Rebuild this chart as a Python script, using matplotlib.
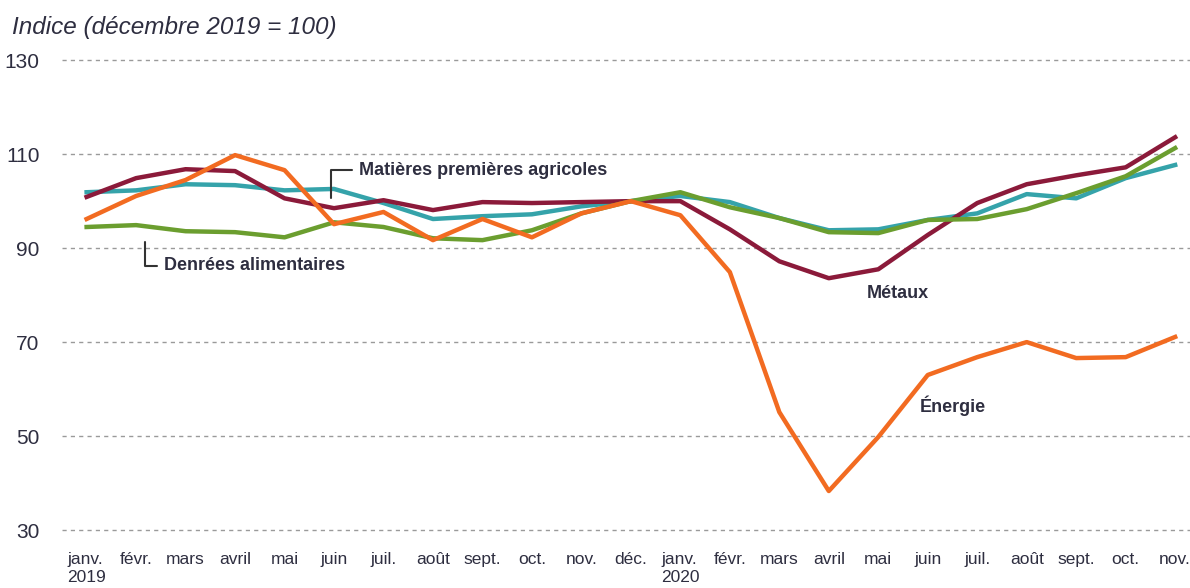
import matplotlib
matplotlib.use("Agg")
import matplotlib.pyplot as plt

plt.rcParams['font.family'] = ['Liberation Sans', 'DejaVu Sans']

months = ['janv.\n2019', 'févr.', 'mars', 'avril', 'mai', 'juin', 'juil.', 'août',
          'sept.', 'oct.', 'nov.', 'déc.', 'janv.\n2020', 'févr.', 'mars', 'avril',
          'mai', 'juin', 'juil.', 'août', 'sept.', 'oct.', 'nov.']

energie = [96.2, 101.1, 104.5, 109.8, 106.6, 95.1, 97.7, 91.7, 96.2, 92.3, 97.4, 100.0,
           97.0, 84.9, 55.1, 38.3, 49.8, 63.0, 66.8, 70.0, 66.6, 66.8, 71.1]
metaux = [100.9, 104.9, 106.8, 106.4, 100.6, 98.5, 100.2, 98.1, 99.8, 99.6, 99.8, 100.0,
          100.0, 94.0, 87.2, 83.6, 85.5, 92.8, 99.6, 103.6, 105.5, 107.2, 113.6]
agricoles = [101.9, 102.3, 103.6, 103.4, 102.3, 102.6, 99.6, 96.2, 96.8, 97.2, 98.9, 100.0,
             101.1, 99.8, 96.4, 93.8, 94.0, 96.0, 97.4, 101.5, 100.6, 104.9, 107.7]
denrees = [94.5, 94.9, 93.6, 93.4, 92.3, 95.5, 94.5, 92.1, 91.7, 93.8, 97.4, 100.0,
           101.9, 98.7, 96.4, 93.4, 93.2, 96.0, 96.2, 98.3, 101.7, 105.3, 111.3]

yticks = [30, 50, 70, 90, 110, 130]

c_orange = '#F26B21'
c_brown = '#8B1A3A'
c_teal = '#35A3AA'
c_green = '#6B9E2F'
c_text = '#2E2E40'

fig = plt.figure(figsize=(11.9, 5.88), dpi=100)
ax = fig.add_axes([0.052, 0.0986, 0.948, 0.799])

x = list(range(len(months)))
ax.plot(x, agricoles, color=c_teal, lw=3.2, zorder=3)
ax.plot(x, metaux, color=c_brown, lw=3.2, zorder=4)
ax.plot(x, denrees, color=c_green, lw=3.2, zorder=5)
ax.plot(x, energie, color=c_orange, lw=3.2, zorder=6)

ax.set_xlim(-0.5, 22.3)
ax.set_ylim(30, 130)
ax.set_yticks(yticks)
ax.set_xticks(x)
ax.set_xticklabels(months, multialignment='left')
ax.tick_params(axis='both', length=0, colors=c_text)
ax.tick_params(axis='y', labelsize=15, pad=16)
ax.tick_params(axis='x', labelsize=12.5, pad=16)
for s in ax.spines.values():
    s.set_visible(False)
ax.yaxis.grid(True, linestyle=(0, (3, 3)), color='#9a9a9a', lw=1)
for gl in ax.get_ygridlines():
    gl.set_clip_on(False)
ax.set_axisbelow(True)

fig.text(0.01, 0.953, 'Indice (décembre 2019 = 100)', style='italic', fontsize=17.5,
         color=c_text, ha='left', va='center')

arrow = dict(arrowstyle='-', color='#333333', lw=1.5,
             connectionstyle='angle,angleA=0,angleB=90,rad=0',
             relpos=(0, 0.5), shrinkA=3, shrinkB=0)
ax.annotate('Matières premières agricoles', xy=(4.93, 100.6), xytext=(5.5, 106.6),
            fontsize=13, fontweight='bold', color=c_text, ha='left', va='center',
            arrowprops=arrow)
ax.annotate('Denrées alimentaires', xy=(1.19, 91.3), xytext=(1.56, 86.2),
            fontsize=13, fontweight='bold', color=c_text, ha='left', va='center',
            arrowprops=arrow)
ax.text(16.4, 80.4, 'Métaux', fontsize=13, fontweight='bold', color=c_text,
        ha='center', va='center')
ax.text(17.5, 56.4, 'Énergie', fontsize=13, fontweight='bold', color=c_text,
        ha='center', va='center')

fig.savefig('out.png', dpi=100)
